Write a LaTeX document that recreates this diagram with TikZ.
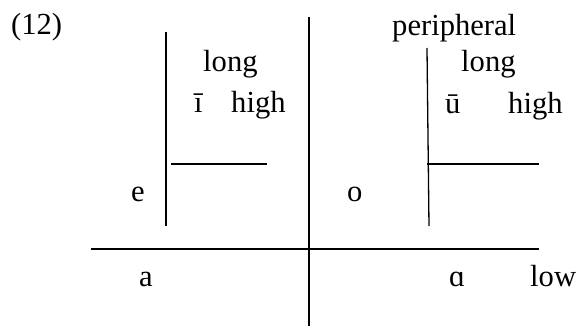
\documentclass[tikz,border=0pt]{standalone}
\usepackage{fontspec}
\setmainfont{Liberation Serif}
\begin{document}
\begin{tikzpicture}[x=1pt,y=-1pt,
  lbl/.style={anchor=base west,inner sep=0pt,font=\fontsize{30.6}{36}\selectfont},
  rule/.style={line width=1.3pt}]
\useasboundingbox (0,0) rectangle (579,326);
% lines
\draw[rule] (309,17) -- (309,326);
\draw[rule] (91,249) -- (539,249);
\draw[rule] (166,32) -- (166,226);
\draw[rule] (171,164) -- (267,164);
\draw[rule] (427,48) -- (429,226);
\draw[rule] (427,164) -- (539,164);
% texts
\node[lbl] (num) at (11,35) {(12)};
\node[lbl] (longL) at (203,72) {long};
\node[lbl] (ibar) at (194,113) {ī};
\node[lbl] (highL) at (231,113) {high};
\node[lbl] (periph) at (392,36) {peripheral};
\node[lbl] (longR) at (461,72) {long};
\node[lbl] (ubar) at (445,114) {ū};
\node[lbl] (highR) at (508,114) {high};
\node[lbl] (e) at (131,202) {e};
\node[lbl] (o) at (347,202) {o};
\node[lbl] (a) at (139,287) {a};
\node[lbl] (alpha) at (449,287) {ɑ};
\node[lbl] (low) at (530,287) {low};
\end{tikzpicture}
\end{document}
